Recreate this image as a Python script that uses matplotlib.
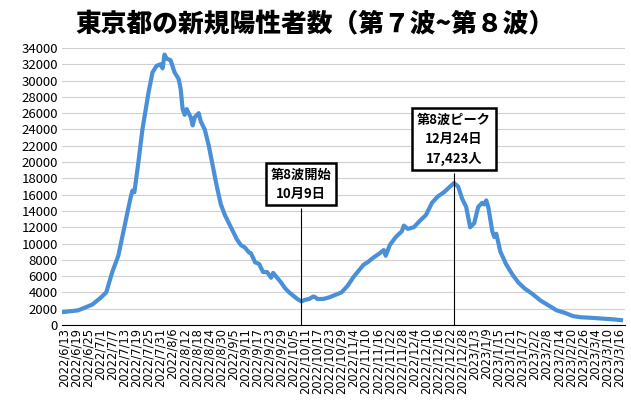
import matplotlib
matplotlib.use("Agg")
import matplotlib.pyplot as plt
import pandas as pd

plt.rcParams['font.family'] = ['Noto Sans CJK JP', 'DejaVu Sans']

dates = ["2022-06-13","2022-06-20","2022-06-27","2022-07-01","2022-07-04","2022-07-07","2022-07-10","2022-07-13","2022-07-16","2022-07-17","2022-07-18","2022-07-20","2022-07-22","2022-07-25","2022-07-27","2022-07-29","2022-07-31","2022-08-01","2022-08-02","2022-08-03","2022-08-05","2022-08-07","2022-08-09","2022-08-10","2022-08-11","2022-08-12","2022-08-13","2022-08-15","2022-08-16","2022-08-17","2022-08-19","2022-08-20","2022-08-22","2022-08-24","2022-08-26","2022-08-28","2022-08-30","2022-09-01","2022-09-03","2022-09-05","2022-09-07","2022-09-09","2022-09-11","2022-09-13","2022-09-14","2022-09-16","2022-09-18","2022-09-20","2022-09-22","2022-09-24","2022-09-25","2022-09-27","2022-09-29","2022-10-01","2022-10-03","2022-10-05","2022-10-07","2022-10-09","2022-10-11","2022-10-13","2022-10-15","2022-10-16","2022-10-17","2022-10-20","2022-10-23","2022-10-26","2022-10-29","2022-11-01","2022-11-04","2022-11-07","2022-11-09","2022-11-11","2022-11-14","2022-11-17","2022-11-19","2022-11-20","2022-11-22","2022-11-25","2022-11-28","2022-11-29","2022-12-01","2022-12-04","2022-12-07","2022-12-10","2022-12-13","2022-12-16","2022-12-19","2022-12-22","2022-12-24","2022-12-26","2022-12-28","2022-12-30","2023-01-01","2023-01-03","2023-01-05","2023-01-07","2023-01-08","2023-01-09","2023-01-10","2023-01-12","2023-01-13","2023-01-14","2023-01-16","2023-01-19","2023-01-22","2023-01-25","2023-01-28","2023-02-01","2023-02-05","2023-02-09","2023-02-13","2023-02-17","2023-02-21","2023-02-25","2023-03-01","2023-03-07","2023-03-13","2023-03-17"]
cases = [1600,1800,2500,3300,4000,6500,8500,12000,15500,16500,16300,20000,24000,28500,31000,31800,32000,31500,33200,32700,32500,31000,30200,29000,26500,25800,26500,25500,24500,25500,26000,25000,24000,22000,19500,17000,14800,13500,12500,11500,10500,9800,9500,8900,8800,7700,7500,6500,6500,5800,6400,5800,5200,4500,4000,3600,3200,2900,3100,3200,3500,3400,3200,3200,3400,3700,4000,4800,5900,6800,7400,7700,8300,8800,9200,8500,9800,10800,11500,12200,11800,12000,12800,13500,15000,15800,16300,17000,17423,17000,15500,14500,12000,12500,14500,15000,14800,15300,14500,11500,10800,11200,9000,7400,6200,5200,4500,3800,3000,2400,1800,1500,1100,950,900,800,700,600]
yticks = list(range(0, 34001, 2000))
tick_start, tick_end, tick_step = "2022-06-13", "2023-03-16", 6

d = pd.to_datetime(dates)
fig = plt.figure(figsize=(6.31, 4.0), dpi=100)
ax = fig.add_axes([62/631, 75/400, 563/631, 277/400])
ax.plot(d, cases, color='#4a90d9', lw=3, solid_joinstyle='round')
ax.set_ylim(0, 34000)
ax.set_xlim(pd.Timestamp("2022-06-12"), pd.Timestamp("2023-03-19"))
ax.set_yticks(yticks)
ax.tick_params(axis='y', labelsize=9.5, length=0, pad=3)
ticks = pd.date_range(tick_start, tick_end, freq=f"{tick_step}D")
ax.set_xticks(ticks)
ax.set_xticklabels([f"{t.year}/{t.month}/{t.day}" for t in ticks], rotation=90, fontsize=8.3,
                   fontfamily='DejaVu Sans')
ax.tick_params(axis='x', length=0, pad=2)
ax.grid(axis='y', color='#d0d0d0', lw=0.8)
ax.set_axisbelow(True)
for s in ['top', 'right', 'left']:
    ax.spines[s].set_visible(False)
ax.spines['bottom'].set_color('black')

d1 = pd.Timestamp("2022-10-09"); d2 = pd.Timestamp("2022-12-24")
ax.vlines(d1, 0, 14400, color='black', lw=0.8)
ax.vlines(d2, 0, 18700, color='black', lw=0.8)
bb = dict(boxstyle='square,pad=0.35', fc='white', ec='black', lw=1.8)
ax.text(d1, 17300, "第8波開始\n10月9日", ha='center', va='center', fontsize=9.5,
        fontweight='bold', bbox=bb, linespacing=1.5)
ax.text(d2, 22800, "第8波ピーク\n12月24日\n17,423人", ha='center', va='center', fontsize=9.5,
        fontweight='bold', bbox=bb, linespacing=1.5)

fig.text(0.5, 0.94, "東京都の新規陽性者数（第７波~第８波）", ha='center', va='center',
         fontsize=18.5, fontweight='heavy')
fig.savefig("out.png", dpi=100)
